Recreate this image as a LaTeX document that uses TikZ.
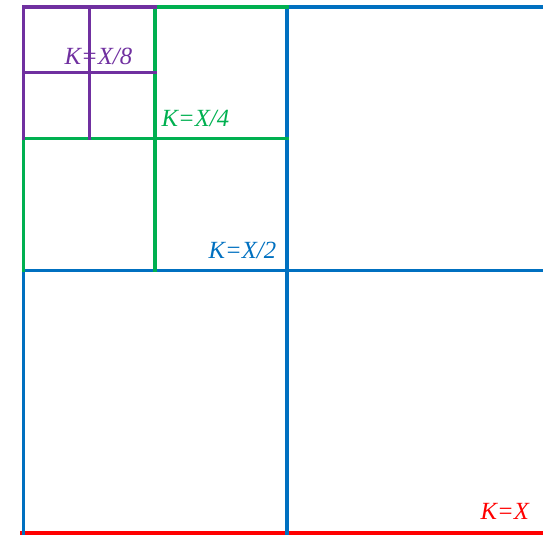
\documentclass[tikz,border=0pt]{standalone}
\usepackage{fontspec}
\setmainfont{Liberation Serif}
\usepackage{xcolor}
\usepackage{tikz}
\usetikzlibrary{positioning}
\definecolor{kred}{RGB}{255,0,0}
\definecolor{kblue}{RGB}{0,112,192}
\definecolor{kgreen}{RGB}{0,176,80}
\definecolor{kpurple}{RGB}{112,48,160}
\tikzset{
  GL/.style={line width=3.3bp, line cap=rect},
  LB/.style={inner sep=0pt, anchor=base west,
             font=\fontsize{24.7bp}{24.7bp}\selectfont\itshape}
}

\begin{document}
\begin{tikzpicture}[x=1bp, y=-1bp]
\useasboundingbox (0,0) rectangle (543,535);

% K=X
\draw[GL, kred] (22,533) -- (543,533);

% K=X/2 grid
\draw[GL, kblue] (23.5,7) -- (23.5,533);
\draw[GL, kblue] (23.5,7) -- (543,7);
\draw[GL, kblue] (287,7) -- (287,533);
\draw[GL, kblue] (23.5,270.5) -- (543,270.5);

% K=X/4 grid
\draw[GL, kgreen] (23.5,138.5) -- (23.5,270.5);
\draw[GL, kgreen] (155,7) -- (287,7);
\draw[GL, kgreen] (155,7) -- (155,270.5);
\draw[GL, kgreen] (23.5,138.5) -- (287,138.5);

% K=X/8 grid
\draw[GL, kpurple] (23.5,7) -- (23.5,138.5);
\draw[GL, kpurple] (23.5,7) -- (155,7);
\draw[GL, kpurple] (89.5,7) -- (89.5,138.5);
\draw[GL, kpurple] (23.5,72.5) -- (155,72.5);

% Labels
\node[LB, kpurple] (L8) at (64.5,65)  {K=X/8};
\node[LB, kgreen]  (L4) at (161.5,127) {K=X/4};
\node[LB, kblue]   (L2) at (208.5,258) {K=X/2};
\node[LB, kred]    (L1) at (480.5,519) {K=X};

\end{tikzpicture}
\end{document}
